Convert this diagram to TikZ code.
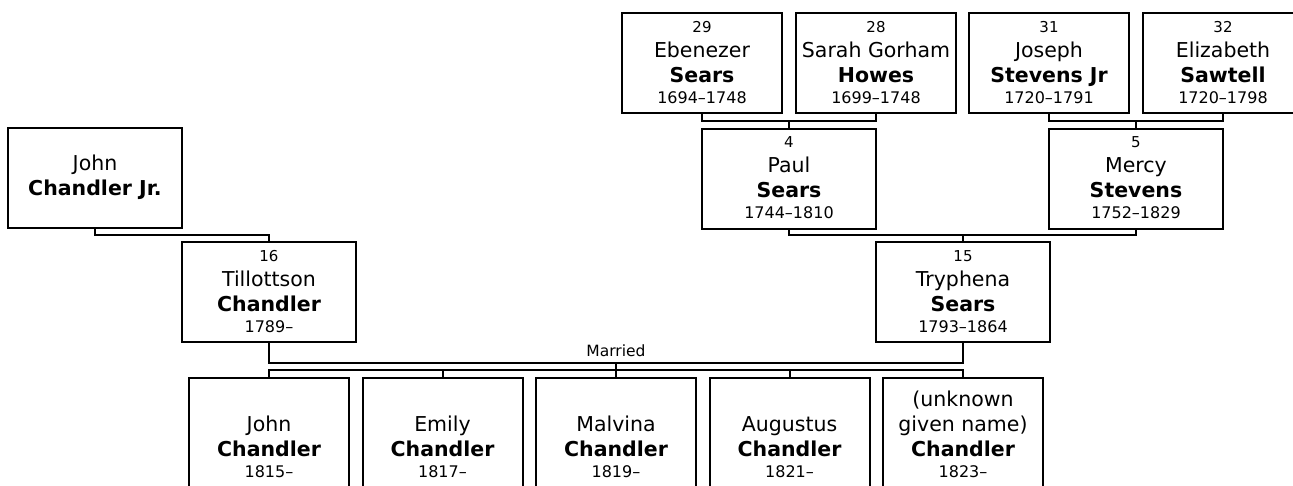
\documentclass[tikz,border=0pt]{standalone}
\usepackage{fontspec}
\setmainfont{DejaVu Sans}
\newcommand\ptext[1]{\vbox{\baselineskip=25pt\lineskiplimit=-100pt\lineskip=0pt
  \halign{\hfil##\vrule height 15pt depth 6pt width 0pt\hfil\cr#1}}}
\newcommand\pnum[1]{\fontsize{15}{18}\selectfont #1}
\newcommand\pgiven[1]{\fontsize{20.5}{25}\selectfont #1}
\newcommand\psur[1]{\fontsize{20.5}{25}\selectfont\bfseries #1}
\newcommand\pdate[1]{\fontsize{16}{20}\selectfont #1}
\newcommand\dategap{\noalign{\vskip-4pt}}
\begin{document}
\begin{tikzpicture}[x=1pt,y=-1pt,
  person/.style={draw,line width=2pt,rectangle,inner sep=0pt,outer sep=0pt,
    minimum width=160pt,minimum height=100pt},
  wide/.style={person,minimum width=174pt},
  child/.style={person,minimum height=118pt,anchor=north},
  conn/.style={line width=2pt}]
\useasboundingbox (0,0) rectangle (1293,485);
\clip (0,0) rectangle (1293,485);
% top row
\node[person] (n29) at (702,63) {\ptext{\pnum{29}\cr\pgiven{Ebenezer}\cr\psur{Sears}\cr\dategap\pdate{1694\textendash1748}\cr}};
\node[person] (n28) at (876,63) {\ptext{\pnum{28}\cr\pgiven{Sarah Gorham}\cr\psur{Howes}\cr\dategap\pdate{1699\textendash1748}\cr}};
\node[person] (n31) at (1049,63) {\ptext{\pnum{31}\cr\pgiven{Joseph}\cr\psur{Stevens Jr}\cr\dategap\pdate{1720\textendash1791}\cr}};
\node[person] (n32) at (1223,63) {\ptext{\pnum{32}\cr\pgiven{Elizabeth}\cr\psur{Sawtell}\cr\dategap\pdate{1720\textendash1798}\cr}};
% middle row
\node[wide] (paul) at (789,178.5) {\ptext{\pnum{4}\cr\pgiven{Paul}\cr\psur{Sears}\cr\dategap\pdate{1744\textendash1810}\cr}};
\node[wide] (mercy) at (1136,178.5) {\ptext{\pnum{5}\cr\pgiven{Mercy}\cr\psur{Stevens}\cr\dategap\pdate{1752\textendash1829}\cr}};
\node[wide] (johnjr) at (95,178) {\ptext{\pgiven{John}\cr\psur{Chandler Jr.}\cr}};
\node[wide] (till) at (269,292) {\ptext{\pnum{16}\cr\pgiven{Tillottson}\cr\psur{Chandler}\cr\dategap\pdate{1789\textendash}\cr}};
\node[wide] (tryph) at (963,292) {\ptext{\pnum{15}\cr\pgiven{Tryphena}\cr\psur{Sears}\cr\dategap\pdate{1793\textendash1864}\cr}};
% children
\node[child] (c1) at (269,378) {\ptext{\cr\pgiven{John}\cr\psur{Chandler}\cr\dategap\pdate{1815\textendash}\cr}};
\node[child] (c2) at (442.5,378) {\ptext{\cr\pgiven{Emily}\cr\psur{Chandler}\cr\dategap\pdate{1817\textendash}\cr}};
\node[child] (c3) at (616,378) {\ptext{\cr\pgiven{Malvina}\cr\psur{Chandler}\cr\dategap\pdate{1819\textendash}\cr}};
\node[child] (c4) at (789.5,378) {\ptext{\cr\pgiven{Augustus}\cr\psur{Chandler}\cr\dategap\pdate{1821\textendash}\cr}};
\node[child] (c5) at (963,378) {\ptext{\pgiven{(unknown}\cr\pgiven{given name)}\cr\psur{Chandler}\cr\dategap\pdate{1823\textendash}\cr}};
% connectors
\draw[conn] (n29.south) -- ++(0,8) coordinate (b1) -| (n28.south);
\draw[conn] (paul.north) -- (paul.north |- b1);
\draw[conn] (n31.south) -- ++(0,8) coordinate (b2) -| (n32.south);
\draw[conn] (mercy.north) -- (mercy.north |- b2);
\draw[conn] (paul.south) -- ++(0,6) coordinate (b3) -| (mercy.south);
\draw[conn] (tryph.north) -- (tryph.north |- b3);
\draw[conn] (johnjr.south) -- ++(0,6.5) -| (till.north);
\draw[conn] (till.south) -- ++(0,21) coordinate (b5) -| (tryph.south)
  node[pos=0.25,above=5pt,inner sep=0pt,font=\fontsize{15.5}{18}\selectfont] (married) {Married};
\draw[conn] (c3.north) -- (c3.north |- b5);
\draw[conn] (c1.north) -- ++(0,-8) -| (c5.north);
\draw[conn] (c2.north) -- ++(0,-8);
\draw[conn] (c4.north) -- ++(0,-8);
\end{tikzpicture}
\end{document}
